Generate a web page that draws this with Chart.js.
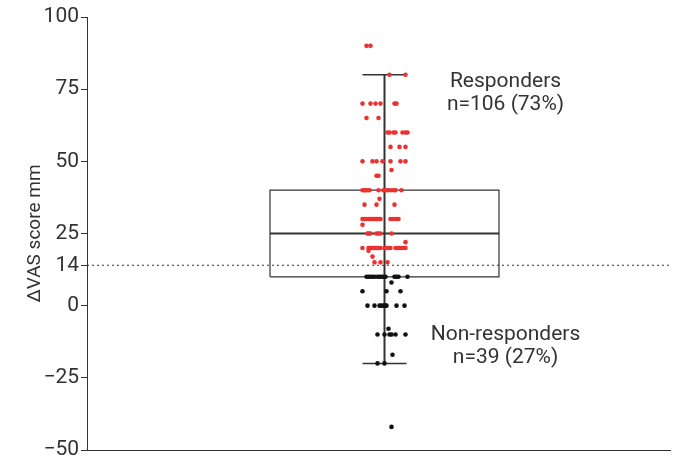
<!DOCTYPE html>
<html lang="en">
<head>
  <meta charset="UTF-8">
  <title>Delta VAS responders</title>
  <script src="https://cdn.jsdelivr.net/npm/chart.js"></script>
  <style>
    body { margin: 0; background: #fff; }
    canvas { display: block; }
  </style>
</head>
<body>
  <canvas id="vasChart" width="680" height="462"></canvas>

  <script>
    // y axis ticks (14 mm = responder cut-off)
    const yTicks = [-50, -25, 0, 14, 25, 50, 75, 100];
    const cutoff = 14;

    // box plot summary
    const q1 = 10;
    const median = 25;
    const q3 = 40;
    const whiskerLow = -20;
    const whiskerHigh = 80;

    // responders: value and horizontal jitter
    const responderValues = [
      90, 90,
      80, 80,
      70, 70, 70, 70, 70, 70,
      65, 65,
      60, 60, 60, 60, 60, 60, 60,
      55, 55, 55,
      50, 50, 50, 50, 50, 50, 50,
      47,
      45, 45,
      40, 40, 40, 40, 40, 40, 40, 40, 40, 40, 40, 40, 40,
      37,
      35, 35, 35,
      30, 30, 30, 30, 30, 30, 30, 30, 30, 30, 30, 30, 30, 30,
      28,
      25, 25, 25, 25, 25, 25, 25,
      22,
      20, 20, 20, 20, 20, 20, 20, 20, 20, 20, 20, 20, 20, 20, 20, 20, 20, 20,
      19, 17,
      15, 15, 15
    ];
    const responderJitter = [
      -18, -14,
      5, 21,
      -22, -14, -9, -4, 10, 12,
      -18, -6,
      3, 5, 9, 11, 18, 21, 23,
      6, 15, 21,
      -22, -12, -8, -2, 6, 16, 21,
      7,
      -8, -6,
      -22, -20, -19, -17, -15, -6, -1, 1, 3, 6, 9, 11, 17,
      -5,
      -20, -8, 10,
      -22, -20, -18, -16, -14, -12, -10, -8, -6, -4, 6, 9, 12, 14,
      -22,
      -17, -16, -14, -8, -6, -4, 7,
      21,
      -22, -16, -14, -12, -10, -8, -6, -4, 0, 2, 4, 6, 11, 13, 15, 17, 19, 21,
      -16, -12,
      -10, -4, 3
    ];

    // non-responders
    const nonResponderValues = [
      10, 10, 10, 10, 10, 10, 10, 10, 10, 10, 10, 10, 10, 10,
      8,
      5, 5, 5,
      0, 0, 0, 0, 0, 0, 0, 0, 0,
      -8,
      -10, -10, -10, -10, -10, -10,
      -17,
      -20, -20,
      -42
    ];
    const nonResponderJitter = [
      -18, -16, -14, -12, -10, -7, -5, -3, -1, 1, 10, 12, 14, 23,
      7,
      -22, 2, 16,
      -17, -10, -5, -3, -1, 1, 2, 12, 20,
      4,
      -7, 0, 5, 7, 11, 21,
      8,
      -7, 0,
      7
    ];

    const xMin = -297.5, xMax = 285.5;
    const boxHalf = 114.5, capHalf = 22;
    const ink = '#333';
    const font = 'Roboto, "DejaVu Sans", sans-serif';

    const toPoints = (vals, jit) => vals.map((v, i) => ({ x: jit[i], y: v }));

    const labelsPlugin = {
      id: 'groupLabels',
      afterDraw(chart) {
        const { ctx, scales: { x, y } } = chart;
        const lines = [
          ['Responders', 77.5], ['n=106 (73%)', 69.5],
          ['Non-responders', -10.2], ['n=39 (27%)', -18.2]
        ];
        ctx.save();
        ctx.font = '21px ' + font;
        ctx.fillStyle = ink;
        ctx.textAlign = 'center';
        ctx.textBaseline = 'middle';
        lines.forEach(([t, v]) => ctx.fillText(t, x.getPixelForValue(121), y.getPixelForValue(v)));
        ctx.restore();
      }
    };

    new Chart(document.getElementById('vasChart'), {
      type: 'scatter',
      data: {
        datasets: [
          {
            data: toPoints(responderValues, responderJitter),
            backgroundColor: 'rgb(234, 50, 48)',
            borderWidth: 0,
            pointRadius: 2.3
          },
          {
            data: toPoints(nonResponderValues, nonResponderJitter),
            backgroundColor: '#111',
            borderWidth: 0,
            pointRadius: 2.3
          },
          { // median
            data: [{ x: -boxHalf, y: median }, { x: boxHalf, y: median }],
            showLine: true, borderColor: ink, borderWidth: 2, pointRadius: 0
          },
          { // box
            data: [
              { x: -boxHalf, y: q1 }, { x: boxHalf, y: q1 },
              { x: boxHalf, y: q3 }, { x: -boxHalf, y: q3 }, { x: -boxHalf, y: q1 }
            ],
            showLine: true, borderColor: ink, borderWidth: 1.2, pointRadius: 0
          },
          { // whisker
            data: [{ x: 0, y: whiskerLow }, { x: 0, y: whiskerHigh }],
            showLine: true, borderColor: ink, borderWidth: 2, pointRadius: 0
          },
          {
            data: [{ x: -capHalf, y: whiskerHigh }, { x: capHalf, y: whiskerHigh }],
            showLine: true, borderColor: ink, borderWidth: 1.5, pointRadius: 0
          },
          {
            data: [{ x: -capHalf, y: whiskerLow }, { x: capHalf, y: whiskerLow }],
            showLine: true, borderColor: ink, borderWidth: 1.5, pointRadius: 0
          },
          { // responder cut-off
            data: [{ x: xMin, y: cutoff }, { x: xMax, y: cutoff }],
            showLine: true, borderColor: '#333', borderWidth: 1,
            borderDash: [2, 3], pointRadius: 0
          }
        ]
      },
      options: {
        responsive: false,
        animation: false,
        layout: { padding: { top: 17, right: 10, left: 0, bottom: 0 } },
        plugins: {
          legend: { display: false },
          tooltip: { enabled: false }
        },
        scales: {
          x: {
            type: 'linear',
            min: xMin,
            max: xMax,
            ticks: { display: false },
            grid: { display: false, drawTicks: false },
            border: { display: true, color: ink, width: 1 },
            afterFit: s => { s.height = 12; }
          },
          y: {
            type: 'linear',
            min: -50,
            max: 100,
            afterBuildTicks: s => { s.ticks = yTicks.map(v => ({ value: v })); },
            ticks: {
              color: ink,
              padding: 2,
              font: { family: font, size: 21 },
              callback: v => String(v).replace('-', '\u2212')
            },
            grid: {
              drawOnChartArea: false,
              drawTicks: true,
              tickLength: 6,
              color: ink
            },
            border: { display: true, color: ink, width: 1 },
            title: {
              display: true,
              text: 'ΔVAS score mm',
              color: ink,
              font: { family: font, size: 19 },
              padding: { top: 24, bottom: 0 }
            },
            afterFit: s => {
              s.width = 87;
              s.paddingTop = 0;
              s.paddingBottom = 0;
            }
          }
        }
      },
      plugins: [labelsPlugin]
    });
  </script>
</body>
</html>
